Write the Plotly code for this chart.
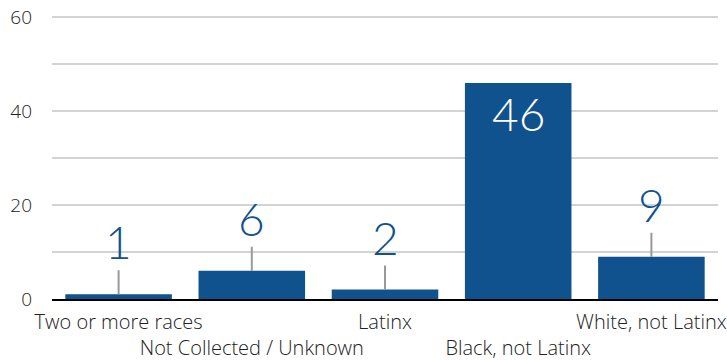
import plotly.graph_objects as go

categories = ["Two or more races", "Not Collected / Unknown", "Latinx",
              "Black, not Latinx", "White, not Latinx"]
counts = [1, 6, 2, 46, 9]
y_ticks = [0, 20, 40, 60]
y_grid = [0, 10, 20, 30, 40, 50, 60]

BAR = "#10528e"
NUM_FONT = "Lato"
LABEL_FONT = "Open Sans"

# alternate tick labels between two rows so long names don't collide
tick_text = [c if i % 2 == 0 else "<br>" + c for i, c in enumerate(categories)]

fig = go.Figure(go.Bar(
    x=categories, y=counts, marker_color=BAR, marker_line_width=0,
    hoverinfo="skip",
))

annotations = []
for cat, v in zip(categories, counts):
    if v >= 20:
        annotations.append(dict(
            x=cat, y=v, text=str(v), showarrow=False, yanchor="top",
            yshift=-1, font=dict(family=NUM_FONT, size=46, color="white", weight=300),
        ))
    else:
        annotations.append(dict(
            x=cat, y=v, text=str(v), showarrow=True, arrowhead=0,
            arrowwidth=2, arrowcolor="#999999", ax=0, ay=-24,
            yanchor="bottom", standoff=0, borderpad=0,
            font=dict(family=NUM_FONT, size=46, color=BAR, weight=300),
        ))

fig.update_layout(
    width=727, height=360,
    margin=dict(l=52, r=9, t=7.6, b=61, autoexpand=False),
    paper_bgcolor="white", plot_bgcolor="white",
    bargap=0.2, showlegend=False,
    font=dict(family=LABEL_FONT, size=20, color="#222222"),
    annotations=annotations,
    xaxis=dict(
        tickmode="array", tickvals=categories, ticktext=tick_text,
        tickangle=0, automargin=False, ticklabelstandoff=4,
        showgrid=False, showline=True, linecolor="black", linewidth=2,
        ticks="", tickfont=dict(family=LABEL_FONT, size=20, color="#222222", weight=300),
    ),
    yaxis=dict(
        range=[0, 62], tickvals=y_grid, automargin=False,
        ticktext=[str(t) if t in y_ticks else "" for t in y_grid],
        showgrid=True, gridcolor="#d3d3d3", gridwidth=2,
        zeroline=False, ticks="", ticklabelstandoff=19,
        tickfont=dict(family=LABEL_FONT, size=19, color="#222222", weight=300),
    ),
)

fig.write_html("out.html")
